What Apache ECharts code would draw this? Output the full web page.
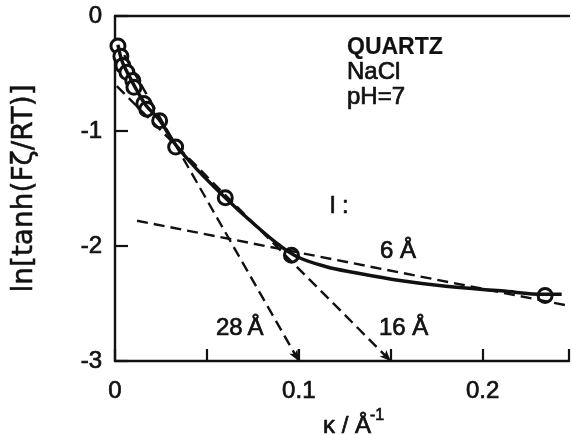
<!DOCTYPE html>
<html>
<head>
<meta charset="utf-8">
<script src="https://cdn.jsdelivr.net/npm/echarts@6/dist/echarts.min.js"></script>
<style>
  html, body { margin: 0; padding: 0; background: #fff; }
  #chart { width: 572px; height: 435px; }
</style>
</head>
<body>
<div id="chart"></div>
<script>
// Measured points: ln[tanh(Fζ/RT)] against κ (Å⁻¹)
const kappa  = [0.0016, 0.0032, 0.0043, 0.0065, 0.0097, 0.0103, 0.0157, 0.0173, 0.0243, 0.033, 0.060, 0.096, 0.234];
const lnTanh = [-0.26, -0.35, -0.43, -0.49, -0.56, -0.62, -0.76, -0.81, -0.91, -1.14, -1.58, -2.08, -2.43];

// Fitted curve through the measurements
const curveK = [0.0016, 0.004, 0.008, 0.012, 0.017, 0.024, 0.033, 0.045, 0.060, 0.075, 0.090, 0.100, 0.115, 0.130, 0.155, 0.180, 0.210, 0.234, 0.243];
const curveY = [-0.25, -0.40, -0.53, -0.65, -0.78, -0.90, -1.12, -1.34, -1.58, -1.80, -2.00, -2.10, -2.18, -2.23, -2.30, -2.35, -2.39, -2.42, -2.42];

// Limiting tangents, one per layer thickness l
const tangent28K = [0.005, 0.1],  tangent28Y = [-0.34, -3];
const tangent16K = [0.001, 0.15], tangent16Y = [-0.61, -3];
const tangent6K  = [0.012, 0.247], tangent6Y = [-1.78, -2.52];

// Axis tick labels
const xTickLabels = ['0', '0.1', '0.2'];
const yTickLabels = ['0', '-1', '-2', '-3'];

const FONT = '"Liberation Sans", Arial, sans-serif';
const INK = '#111';
const pairs = (xs, ys) => xs.map((x, i) => [x, ys[i]]);

const dashedSeg = (xs, ys, arrow) => ({
  type: 'line',
  data: [],
  silent: true,
  markLine: {
    silent: true,
    symbol: arrow ? ['none', 'arrow'] : ['none', 'none'],
    symbolSize: [7, 11],
    label: { show: false },
    lineStyle: { color: INK, width: 2.4, type: [11, 6] },
    emphasis: { disabled: true },
    data: [[{ coord: [xs[0], ys[0]] }, { coord: [xs[1], ys[1]] }]]
  }
});

const chart = echarts.init(document.getElementById('chart'), null, { renderer: 'canvas' });

const text = (str, x, y, size, weight) => ({
  type: 'text', x, y, silent: true,
  style: {
    text: str, fill: INK, stroke: INK, lineWidth: weight === 'bold' ? 0.2 : 0.7,
    font: (weight || 'normal') + ' ' + size + 'px ' + FONT,
    textAlign: 'left', textVerticalAlign: 'middle'
  }
});

const labelStyle = {
  color: INK, fontFamily: FONT, fontSize: 24,
  textBorderColor: INK, textBorderWidth: 0.7
};

chart.setOption({
  animation: false,
  backgroundColor: '#fff',
  grid: { left: 115, right: 0, top: 16, bottom: 74, containLabel: false },
  xAxis: [{
    type: 'value', min: 0, max: 0.247, interval: 0.05, position: 'bottom',
    axisLine: { show: true, onZero: false, lineStyle: { color: INK, width: 2.4 } },
    axisTick: { show: true, inside: true, length: 12, lineStyle: { color: INK, width: 2.2 } },
    splitLine: { show: false },
    axisLabel: Object.assign({}, labelStyle, {
      margin: 18,
      formatter: v => {
        const s = String(Math.round(v * 100) / 100);
        return xTickLabels.includes(s) ? s : '';
      }
    })
  }, {
    type: 'value', min: 0, max: 0.247, position: 'top',
    axisLine: { show: true, onZero: false, lineStyle: { color: INK, width: 2.4 } },
    axisTick: { show: false }, axisLabel: { show: false }, splitLine: { show: false }
  }],
  yAxis: {
    type: 'value', min: -3, max: 0, interval: 1,
    axisLine: { show: true, onZero: false, lineStyle: { color: INK, width: 2.4 } },
    axisTick: { show: true, inside: true, length: 13, lineStyle: { color: INK, width: 2.2 } },
    splitLine: { show: false },
    axisLabel: Object.assign({}, labelStyle, {
      margin: 13,
      formatter: v => { const s = String(Math.round(v)); return yTickLabels.includes(s) ? s : ''; }
    }),
    name: 'ln[tanh(Fζ/RT)]',
    nameLocation: 'middle', nameRotate: 90, nameGap: 76,
    nameTextStyle: {
      color: INK, fontFamily: '"DejaVu Sans", sans-serif', fontSize: 28,
      textBorderColor: INK, textBorderWidth: 0.5
    }
  },
  series: [
    dashedSeg(tangent28K, tangent28Y, true),
    dashedSeg(tangent16K, tangent16Y, true),
    dashedSeg(tangent6K, tangent6Y, false),
    {
      type: 'line', data: pairs(curveK, curveY), smooth: 0.4,
      showSymbol: false, silent: true,
      lineStyle: { color: INK, width: 3.5 }
    },
    {
      type: 'scatter', data: pairs(kappa, lnTanh),
      symbol: 'circle', symbolSize: 14, silent: true,
      itemStyle: { color: '#fff', borderColor: INK, borderWidth: 3, opacity: 1 }
    }
  ],
  graphic: [
    text('QUARTZ', 347, 48, 23, 'bold'),
    text('NaCl', 347, 72, 24),
    text('pH=7', 347, 97, 24),
    text('l :', 330, 206, 24),
    text('6 Å', 380, 251, 24),
    text('28\u2009Å', 216, 328, 24),
    text('16 Å', 379, 328, 24),
    text('κ / Å', 323, 426, 24),
    text('-1', 370, 416, 16)
  ]
});
</script>
</body>
</html>
